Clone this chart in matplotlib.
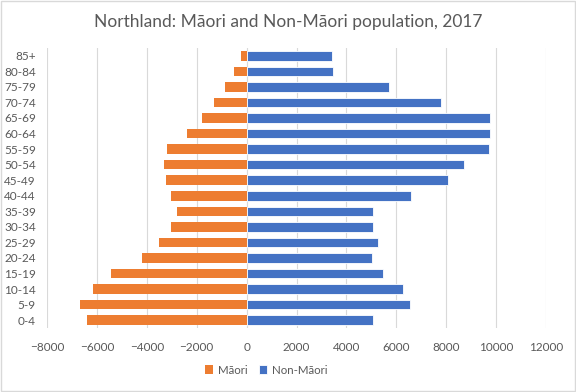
import matplotlib.pyplot as plt
import numpy as np
from matplotlib.patches import Rectangle

plt.rcParams['font.family'] = ['Lato', 'DejaVu Sans']

age_groups = ['0-4', '5-9', '10-14', '15-19', '20-24', '25-29', '30-34', '35-39',
              '40-44', '45-49', '50-54', '55-59', '60-64', '65-69', '70-74',
              '75-79', '80-84', '85+']
maori = [6400, 6680, 6160, 5440, 4200, 3520, 3020, 2800, 3020, 3220,
         3300, 3180, 2400, 1780, 1300, 870, 500, 230]
non_maori = [5080, 6530, 6250, 5450, 5010, 5280, 5080, 5080, 6570, 8080,
             8720, 9720, 9760, 9760, 7800, 5720, 3450, 3410]

grey = '#595959'
fig = plt.figure(figsize=(5.76, 3.92), dpi=100)
ax = fig.add_axes([47 / 576, 1 - 328 / 392, 499 / 576, 280 / 392])

y = np.arange(len(age_groups))
ax.barh(y, [-v for v in maori], height=0.62, color='#ED7D31', label='Māori', zorder=3)
ax.barh(y, non_maori, height=0.62, color='#4472C4', label='Non-Māori', zorder=3,
        edgecolor='white', linewidth=0.6)

ax.set_xlim(-8000, 12000)
ax.set_ylim(-0.5, len(age_groups) - 0.5)
ax.set_xticks(range(-8000, 12001, 2000))
ax.set_yticks(y)
ax.set_yticklabels(age_groups)
ax.grid(axis='x', color='#d9d9d9', linewidth=0.8, zorder=0)
ax.tick_params(length=0, labelsize=8.5, colors=grey, pad=8)
ax.tick_params(axis='x', pad=10)
for s in ax.spines.values():
    s.set_visible(False)

fig.text(0.5, 1 - 22 / 392, 'Northland: Māori and Non-Māori population, 2017',
         ha='center', va='center', fontsize=12.5, color=grey)

ax.legend(loc='center', bbox_to_anchor=(266 / 576, 1 - 370 / 392),
          bbox_transform=fig.transFigure, ncol=2, frameon=False,
          fontsize=8.3, labelcolor=grey, handlelength=0.7, handleheight=0.7,
          handletextpad=0.4, columnspacing=1.0)

fig.patches.append(Rectangle((0.002, 0.002), 0.996, 0.996, transform=fig.transFigure,
                             fill=False, edgecolor='#d9d9d9', linewidth=1))

fig.savefig('out.png', dpi=100)
